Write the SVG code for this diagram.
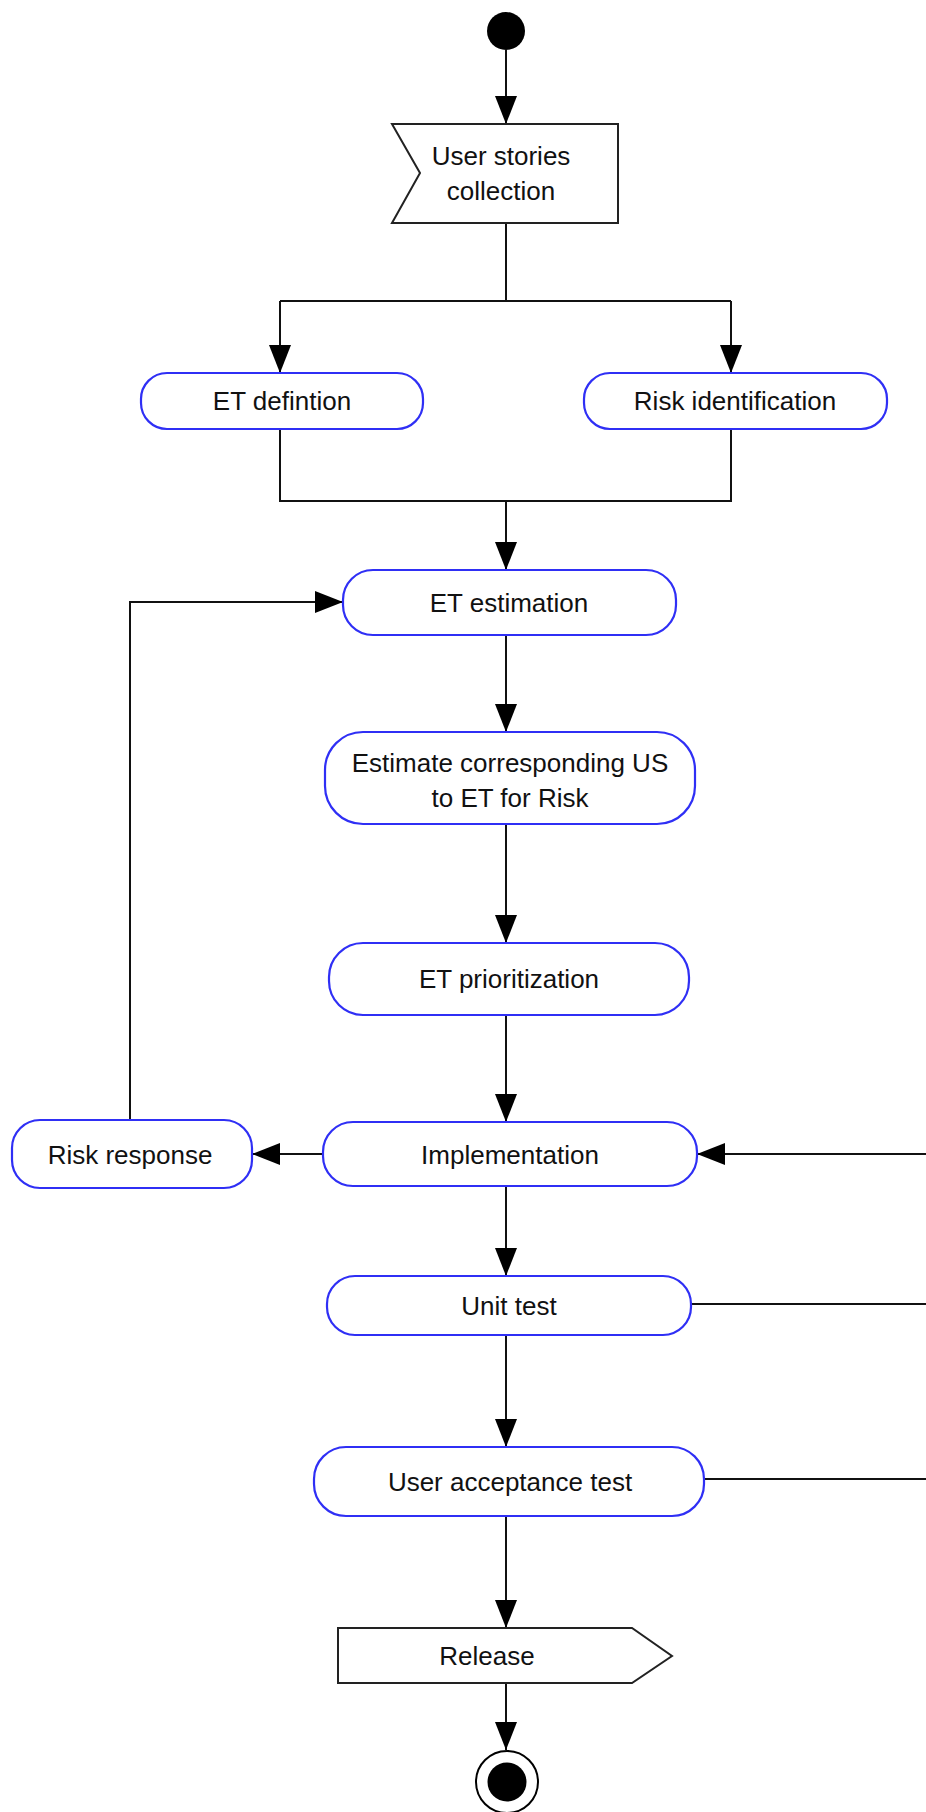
<svg xmlns="http://www.w3.org/2000/svg" width="926" height="1812" viewBox="0 0 926 1812">
<style>
.act{fill:#fff;stroke:#2f2ff5;stroke-width:2.2}
.sig{fill:#fff;stroke:#222;stroke-width:2}
.t{font-family:"Liberation Sans",Arial,sans-serif;font-size:26px;fill:#111;text-anchor:middle}
.c{fill:none;stroke:#111;stroke-width:2}
</style>
<defs>
<marker id="ah" markerUnits="userSpaceOnUse" markerWidth="28" markerHeight="22" refX="28" refY="11" orient="auto">
<path d="M0,0 L28,11 L0,22 z" fill="#000"/>
</marker>
</defs>
<rect width="926" height="1812" fill="#fff"/>
<g id="connectors">
<path class="c" d="M506,50 V124" marker-end="url(#ah)"/>
<path class="c" d="M506,223 V301 M280,301 H731"/>
<path class="c" d="M280,301 V373" marker-end="url(#ah)"/>
<path class="c" d="M731,301 V373" marker-end="url(#ah)"/>
<path class="c" d="M280,429 V501 H731 V429"/>
<path class="c" d="M506,501 V570" marker-end="url(#ah)"/>
<path class="c" d="M506,635 V732" marker-end="url(#ah)"/>
<path class="c" d="M506,824 V943" marker-end="url(#ah)"/>
<path class="c" d="M506,1015 V1122" marker-end="url(#ah)"/>
<path class="c" d="M323,1154 H252" marker-end="url(#ah)"/>
<path class="c" d="M130,1120 V602 H343" marker-end="url(#ah)"/>
<path class="c" d="M926,1154 H697" marker-end="url(#ah)"/>
<path class="c" d="M506,1186 V1276" marker-end="url(#ah)"/>
<path class="c" d="M691,1304 H926"/>
<path class="c" d="M506,1335 V1447" marker-end="url(#ah)"/>
<path class="c" d="M704,1479 H926"/>
<path class="c" d="M506,1516 V1628" marker-end="url(#ah)"/>
<path class="c" d="M506,1683 V1750" marker-end="url(#ah)"/>
</g>
<g id="start"><circle cx="506" cy="31" r="19" fill="#000"/></g>
<g id="user-stories">
<polygon class="sig" points="392,124 618,124 618,223 392,223 420,173"/>
<text class="t" x="501" y="165">User stories</text>
<text class="t" x="501" y="200">collection</text>
</g>
<g id="et-definition">
<rect class="act" x="141" y="373" width="282" height="56" rx="26"/>
<text class="t" x="282" y="410">ET defintion</text>
</g>
<g id="risk-identification">
<rect class="act" x="584" y="373" width="303" height="56" rx="26"/>
<text class="t" x="735" y="410">Risk identification</text>
</g>
<g id="et-estimation">
<rect class="act" x="343" y="570" width="333" height="65" rx="30"/>
<text class="t" x="509" y="612">ET estimation</text>
</g>
<g id="estimate-us">
<rect class="act" x="325" y="732" width="370" height="92" rx="38"/>
<text class="t" x="510" y="772">Estimate corresponding US</text>
<text class="t" x="510" y="807">to ET for Risk</text>
</g>
<g id="et-prioritization">
<rect class="act" x="329" y="943" width="360" height="72" rx="34"/>
<text class="t" x="509" y="988">ET prioritization</text>
</g>
<g id="implementation">
<rect class="act" x="323" y="1122" width="374" height="64" rx="30"/>
<text class="t" x="510" y="1164">Implementation</text>
</g>
<g id="risk-response">
<rect class="act" x="12" y="1120" width="240" height="68" rx="28"/>
<text class="t" x="130" y="1164">Risk response</text>
</g>
<g id="unit-test">
<rect class="act" x="327" y="1276" width="364" height="59" rx="28"/>
<text class="t" x="509" y="1315">Unit test</text>
</g>
<g id="uat">
<rect class="act" x="314" y="1447" width="390" height="69" rx="32"/>
<text class="t" x="510" y="1491">User acceptance test</text>
</g>
<g id="release">
<polygon class="sig" points="338,1628 632,1628 672,1656 632,1683 338,1683"/>
<text class="t" x="487" y="1665">Release</text>
</g>
<g id="end">
<circle cx="507" cy="1782" r="31" fill="#fff" stroke="#000" stroke-width="2"/>
<circle cx="507" cy="1782" r="19.5" fill="#000"/>
</g>
</svg>
